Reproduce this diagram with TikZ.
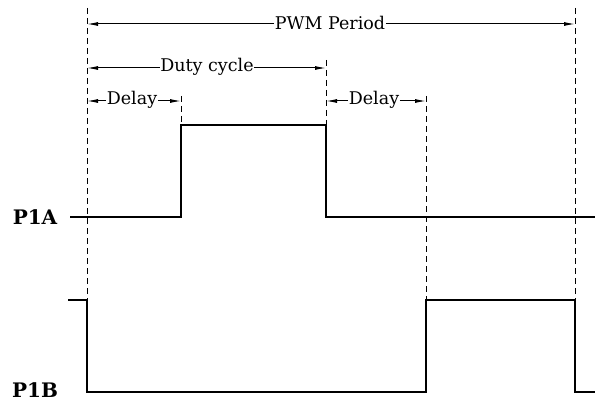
\documentclass[tikz,border=0pt]{standalone}
\usepackage{fontspec}
\setmainfont{DejaVu Serif}
\usetikzlibrary{arrows.meta}
\begin{document}
\begin{tikzpicture}[x=1pt,y=-1pt,
  guide/.style={draw=black,line width=0.7pt,dash pattern=on 6pt off 4pt},
  wave/.style={draw=black,line width=1.8pt,line join=miter},
  dim/.style={draw=black,line width=1pt,-{Latex[length=11pt,width=4pt]}},
  lbl/.style={inner sep=0.5pt,font=\fontsize{17.5}{19}\selectfont},
  sig/.style={font=\fontsize{20}{22}\selectfont\bfseries}]
\useasboundingbox (0,0) rectangle (595,404);
% guide lines
\coordinate (g1t) at (87,8);   \coordinate (g1b) at (87,300);
\coordinate (g2t) at (181,96); \coordinate (g2b) at (181,125);
\coordinate (g3t) at (326,60); \coordinate (g3b) at (326,125);
\coordinate (g4t) at (426,96); \coordinate (g4b) at (426,300);
\coordinate (g5t) at (575,8);  \coordinate (g5b) at (575,300);
\draw[guide] (g1t) -- (g1b);
\draw[guide] (g2t) -- (g2b);
\draw[guide] (g3t) -- (g3b);
\draw[guide] (g4t) -- (g4b);
\draw[guide] (g5t) -- (g5b);
% dimension arrows
\node[lbl] (pwm) at (330,23) {PWM Period};
\coordinate (pwmL) at (87,24); \coordinate (pwmR) at (575,24);
\draw[dim] (pwm.west |- pwmL) -- (pwmL);
\draw[dim] (pwm.east |- pwmR) -- (pwmR);
\node[lbl] (duty) at (207,67) {Duty cycle};
\coordinate (dutyL) at (87,68); \coordinate (dutyR) at (326,68);
\draw[dim] (duty.west |- dutyL) -- (dutyL);
\draw[dim] (duty.east |- dutyR) -- (dutyR);
\node[lbl] (d1) at (132,100) {Delay};
\coordinate (d1L) at (87,101); \coordinate (d1R) at (181,101);
\draw[dim] (d1.west |- d1L) -- (d1L);
\draw[dim] (d1.east |- d1R) -- (d1R);
\node[lbl] (d2) at (374,100) {Delay};
\coordinate (d2L) at (326,101); \coordinate (d2R) at (426,101);
\draw[dim] (d2.west |- d2L) -- (d2L);
\draw[dim] (d2.east |- d2R) -- (d2R);
% signals
\node[sig] (p1a) at (35,217) {P1A};
\node[sig] (p1b) at (35,390) {P1B};
\draw[wave] (70,217) -- (181,217) -- (181,125) -- (326,125) -- (326,217) -- (595,217);
\draw[wave] (68,300) -- (87,300) -- (87,392) -- (426,392) -- (426,300) -- (575,300) -- (575,392) -- (595,392);
\end{tikzpicture}
\end{document}
